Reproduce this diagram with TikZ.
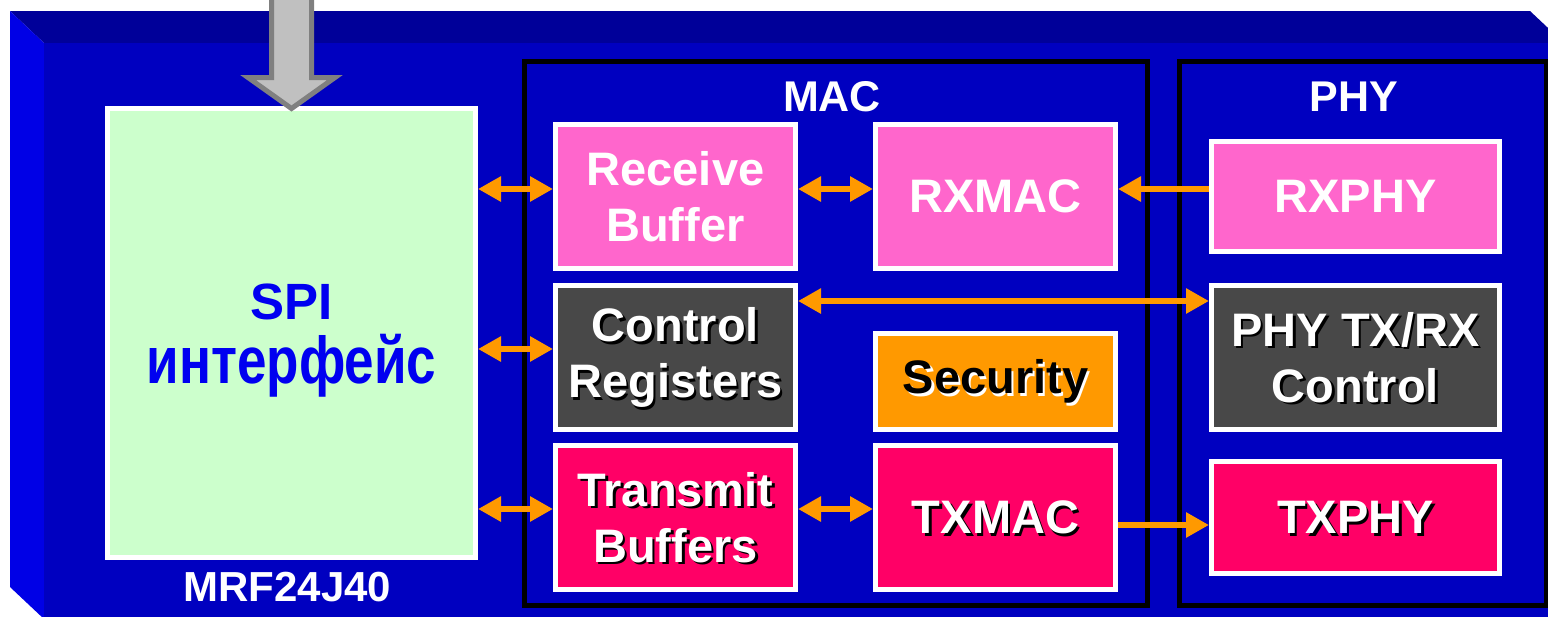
\documentclass[tikz,border=0pt]{standalone}
\usepackage{graphicx}
\usepackage{fontspec}
\setmainfont{Liberation Sans}
\usetikzlibrary{positioning,arrows.meta}

\definecolor{facefront}{HTML}{0000C0}
\definecolor{facetop}{HTML}{000099}
\definecolor{faceleft}{HTML}{0000E6}
\definecolor{rxpink}{HTML}{FF66CC}
\definecolor{txred}{HTML}{FF0066}
\definecolor{ctlgray}{HTML}{484848}
\definecolor{secorange}{HTML}{FF9900}
\definecolor{spigreen}{HTML}{CCFFCC}
\definecolor{spiblue}{HTML}{0000F0}
\definecolor{busgray}{HTML}{C0C0C0}
\definecolor{busedge}{HTML}{808080}

% text with a small drop shadow
\newcommand{\shtext}[2][black]{\makebox[0pt][l]{\kern2.5pt\smash{\raisebox{-2.5pt}{\color{#1}#2}}}#2}

\begin{document}
\begin{tikzpicture}[
  x=1pt, y=-1pt,
  >={Triangle[length=23pt,width=24pt]},
  blockbox/.style={
    draw=white,
    line width=5pt,
    align=center,
    text=white,
    inner sep=0pt,
    font=\bfseries\fontsize{47}{56}\selectfont
  },
  macblock/.style={blockbox, minimum width=240pt, minimum height=144pt},
  phyblock/.style={blockbox, minimum width=288pt},
  pinkblock/.style={fill=rxpink},
  redblock/.style={fill=txred},
  grayblock/.style={fill=ctlgray},
  orangeblock/.style={fill=secorange, text=black},
  framebox/.style={draw=black, line width=5pt, minimum height=543.5pt},
  grouplabel/.style={text=white, inner sep=0pt, font=\bfseries\fontsize{43}{50}\selectfont},
  spibox/.style={draw=white, line width=5pt, fill=spigreen,
    minimum width=368pt, minimum height=449pt},
  spilabel/.style={text=spiblue, align=center, inner sep=0pt,
    font=\bfseries\fontsize{51}{64}\selectfont},
  buspointer/.style={fill=busgray, draw=busedge, line width=5pt, line join=miter},
  link/.style={draw=secorange, line width=6pt, ->},
  duallink/.style={draw=secorange, line width=6pt, <->}
]
\useasboundingbox (0,0) rectangle (1548,616);
\clip (0,0) rectangle (1548,616);

% chip body
\fill[facetop] (10,11) -- (1530,11) -- (1564,43) -- (44,43) -- cycle;
\fill[faceleft] (10,11) -- (44,43) -- (44,619) -- (10,587) -- cycle;
\fill[facefront] (44,43) rectangle (1570,630);

% SPI side
\node[spibox] (spi) at (291.5,333) {};
\node[spilabel] (spitext) at (291.5,341)
  {SPI\\\scalebox{1}[1.25]{\fontsize{53}{64}\selectfont интерфейс}};
\node[grouplabel, font=\bfseries\fontsize{42}{50}\selectfont] (chipname) at (287.5,587) {MRF24J40};
\draw[buspointer] (271.5,-10) -- (271.5,77.5) -- (248,77.5) -- (291.5,108.5)
  -- (335,77.5) -- (311.5,77.5) -- (311.5,-10) -- cycle;

% MAC and PHY groups
\node[framebox, minimum width=623.5pt] (macframe) at (835.75,333.25) {};
\node[framebox, minimum width=367pt] (phyframe) at (1363,333.25) {};
\node[grouplabel] (maclbl) at (832,97) {MAC};
\node[grouplabel] (phylbl) at (1354,97) {PHY};

\node[macblock, pinkblock] (rxbuf) at (675.5,196.5) {Receive\\Buffer};
\node[macblock, pinkblock, right=75pt of rxbuf] (rxmac) {RXMAC};
\node[macblock, grayblock, below=12pt of rxbuf] (ctrlreg) {\shtext{Control}\\\shtext{Registers}};
\node[macblock, redblock, below=11pt of ctrlreg] (txbuf) {\shtext{Transmit}\\\shtext{Buffers}};
\node[macblock, redblock, right=75pt of txbuf] (txmac) {\shtext{TXMAC}};
\node[macblock, orangeblock, minimum height=96pt, above=11pt of txmac] (security) {\shtext[white]{Security}};

\node[phyblock, pinkblock, minimum height=110pt, right=91pt of rxmac] (rxphy) {RXPHY};
\node[phyblock, grayblock, minimum height=144pt] (phyctl) at (rxphy |- ctrlreg) {\shtext{PHY TX/RX}\\\shtext{Control}};
\node[phyblock, redblock, minimum height=112pt, right=91pt of txmac] (txphy) {\shtext{TXPHY}};

% data paths
\draw[duallink] ([yshift=7.5pt]rxbuf.west -| spi.east) -- ([yshift=7.5pt]rxbuf.west);
\draw[duallink] ([yshift=8.5pt]ctrlreg.west -| spi.east) -- ([yshift=8.5pt]ctrlreg.west);
\draw[duallink] ([yshift=8.5pt]txbuf.west -| spi.east) -- ([yshift=8.5pt]txbuf.west);
\draw[duallink] ([yshift=7.5pt]rxbuf.east) -- ([yshift=7.5pt]rxmac.west);
\draw[link] ([yshift=7.5pt]rxphy.west) -- ([yshift=7.5pt]rxmac.east);
\draw[duallink] ([yshift=-18pt]ctrlreg.north east) -- ([yshift=-18pt]phyctl.north west);
\draw[duallink] ([yshift=8.5pt]txbuf.east) -- ([yshift=8.5pt]txmac.west);
\draw[link] ([yshift=-7.5pt]txmac.east) -- ([yshift=-7.5pt]txphy.west);

\end{tikzpicture}
\end{document}
